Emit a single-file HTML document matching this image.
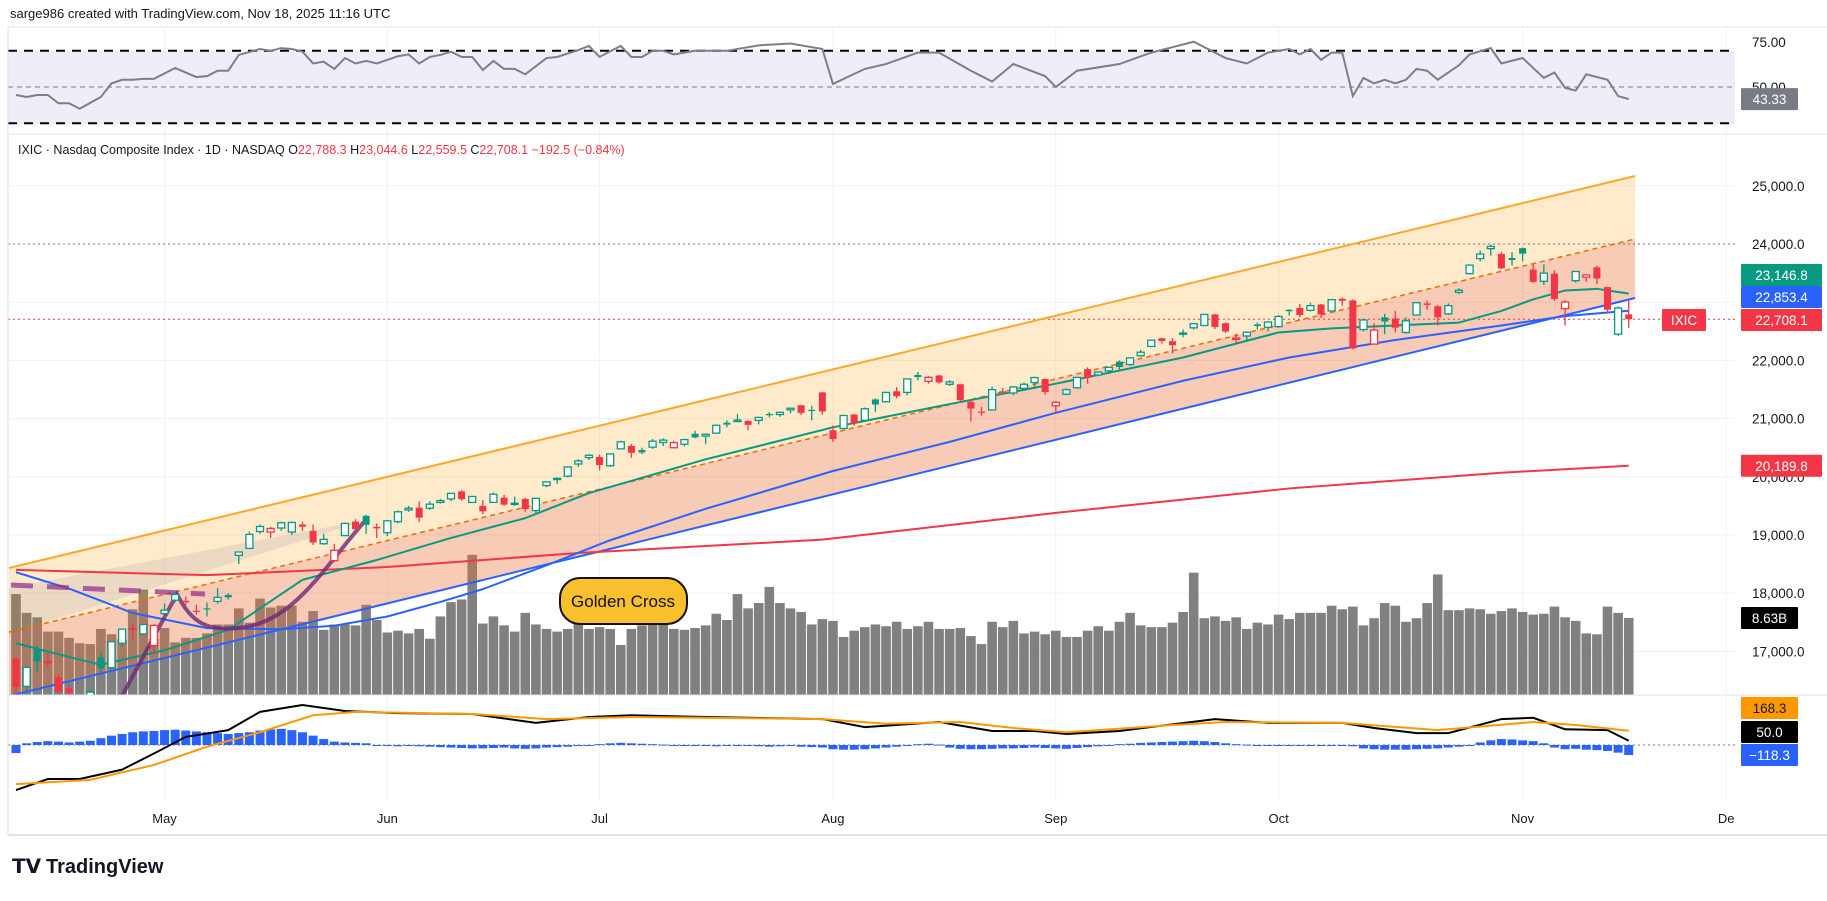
<!DOCTYPE html>
<html><head><meta charset="utf-8"><title>IXIC chart</title>
<style>
html,body{margin:0;padding:0;background:#fff;}
body{width:1827px;height:896px;overflow:hidden;font-family:"Liberation Sans",sans-serif;}
svg text{font-family:"Liberation Sans",sans-serif;}
</style></head>
<body>
<svg id="chart" width="1827" height="896" viewBox="0 0 1827 896" xmlns="http://www.w3.org/2000/svg">
<defs>
<clipPath id="pp"><rect x="8" y="134" width="1727" height="561"/></clipPath>
<clipPath id="rp"><rect x="8" y="28" width="1727" height="106"/></clipPath>
<clipPath id="mp"><rect x="8" y="695" width="1727" height="105"/></clipPath>
</defs>
<text x="10" y="18" font-size="13" fill="#131722">sarge986 created with TradingView.com, Nov 18, 2025 11:16 UTC</text>
<g id="grid"></g>
<rect x="8" y="51" width="1727" height="73" fill="#f0edf8"/>
<g id="rsi" clip-path="url(#rp)"></g>
<g id="price" clip-path="url(#pp)"></g>
<g id="macd" clip-path="url(#mp)"></g>
<line x1="8" y1="27" x2="1827" y2="27" stroke="#e0e3eb"/>
<line x1="8" y1="134" x2="1827" y2="134" stroke="#e0e3eb"/>
<line x1="8" y1="695" x2="1827" y2="695" stroke="#e0e3eb"/>
<line x1="8" y1="835" x2="1827" y2="835" stroke="#e0e3eb" stroke-width="2"/>
<line x1="8" y1="27" x2="8" y2="835" stroke="#e0e3eb"/>
<text x="18" y="154" font-size="12.5" fill="#131722">IXIC · Nasdaq Composite Index · 1D · NASDAQ  O<tspan fill="#f23645">22,788.3</tspan>  H<tspan fill="#f23645">23,044.6</tspan>  L<tspan fill="#f23645">22,559.5</tspan>  C<tspan fill="#f23645">22,708.1</tspan>  <tspan fill="#f23645">−192.5 (−0.84%)</tspan></text>
<g id="axes"></g>
<g>
<rect x="560" y="578" width="127" height="46" rx="20" ry="20" fill="#f9c02d" stroke="#111" stroke-width="2"/>
<text x="623" y="607" font-size="17" text-anchor="middle" fill="#111">Golden Cross</text>
</g>
<g>
<text x="12" y="873" font-size="20" font-weight="bold" fill="#131722">𝗧𝗩</text>
<text x="46" y="873" font-size="20" font-weight="bold" fill="#131722">TradingView</text>
</g>
</svg>
<script>
const NS="http://www.w3.org/2000/svg";
// ---- data ----
const opens=[16880,16400,17050,16820,16560,16370,16120,16060,16900,16720,17140,17400,17300,17100,
17650,17880,17870,17700,17740,17860,17970,18650,18770,19060,19050,19120,19050,19180,19070,18850,18560,18990,19230,19330,19140,
19040,19230,19430,19470,19460,19560,19620,19750,19560,19500,19560,19640,19530,19620,19420,19850,19960,20010,20220,20330,
20340,20190,20480,20530,20460,20510,20590,20500,20560,20740,20700,20750,20930,20950,20960,20970,21080,21070,21150,21230,21150,21450,
20800,20830,21070,20970,21330,21290,21470,21450,21750,21640,21740,21590,21590,21290,21120,21150,21470,21440,21520,21620,21680,
21220,21420,21530,21850,21750,21820,21980,21930,22080,22240,22380,22330,22460,22560,22600,22790,22640,22360,22420,22620,22570,
22580,22870,22900,22860,22960,22850,23060,23030,22530,22280,22740,22720,22480,22780,22980,22930,22800,23170,23490,23750,23920,23830,23760,
23930,23560,23360,23490,22890,23370,23430,23600,23260,22450,22790];
const highs=[16910,16760,17090,16970,16600,16440,16140,16350,17000,17170,17390,17480,17480,17470,
17820,18020,17940,17800,17840,18090,18000,18710,19060,19180,19140,19230,19230,19230,19180,19020,18850,19210,19270,19350,19200,
19250,19420,19500,19580,19580,19620,19720,19770,19670,19600,19730,19690,19660,19640,19640,19920,19990,20180,20300,20390,
20380,20400,20620,20560,20500,20650,20660,20620,20650,20790,20740,20890,20970,21080,20970,21030,21110,21110,21190,21240,21220,21460,
20880,21060,21080,21190,21350,21460,21540,21690,21800,21730,21750,21660,21600,21300,21200,21550,21530,21560,21620,21720,21690,
21300,21520,21710,21880,21810,21880,22000,22050,22180,22350,22390,22380,22530,22640,22790,22800,22650,22460,22500,22650,22670,
22780,22880,22970,22990,22970,23050,23080,23050,22720,22640,22800,22850,22740,23000,23030,22950,22980,23240,23650,23890,23990,23870,23860,
23940,23650,23650,23550,23030,23540,23480,23630,23270,22930,23040];
const lows=[16150,16250,16650,16740,16160,16250,15760,16000,16650,16700,17080,17210,17280,16950,
17640,17840,17800,17630,17600,17820,17890,18500,18760,19020,18950,19070,19000,19070,18830,18830,18530,18980,19090,19020,18950,
18980,19200,19400,19220,19430,19540,19580,19590,19550,19360,19550,19500,19500,19400,19380,19820,19880,19990,20170,20290,
20110,20170,20470,20330,20390,20480,20530,20490,20520,20660,20560,20740,20850,20950,20800,20900,21020,21030,21090,21060,20970,21070,
20600,20820,20880,20960,21110,21280,21350,21400,21660,21600,21600,21560,21300,20950,21050,21140,21440,21400,21500,21520,21410,
21100,21400,21510,21600,21730,21780,21840,21900,22060,22230,22290,22120,22400,22530,22590,22540,22470,22280,22340,22530,22500,
22560,22770,22740,22840,22730,22840,22940,22190,22500,22280,22450,22480,22460,22770,22870,22600,22780,23140,23480,23700,23800,23570,23630,
23700,23330,23300,23020,22600,23340,23350,23310,22810,22420,22560];
const closes=[16387,16724,16831,16823,16307,16286,15870,16300,16708,17166,17382,17366,17461,17446,
17710,17977,17844,17690,17738,17928,17929,18708,19010,19146,19112,19211,19215,19143,18872,18925,18737,19199,19101,19175,19114,
19243,19399,19460,19298,19530,19591,19715,19615,19662,19407,19701,19521,19546,19447,19631,19913,19973,20168,20273,20370,
20202,20393,20601,20412,20418,20611,20630,20586,20640,20677,20730,20885,20896,20974,20892,21020,21057,21108,21178,21098,21130,21122,
20650,21053,20916,21169,21242,21450,21385,21682,21713,21710,21623,21630,21315,21172,21100,21497,21449,21544,21590,21705,21456,
21280,21498,21707,21700,21799,21879,21886,22043,22141,22348,22333,22261,22470,22631,22789,22573,22497,22384,22484,22591,22660,
22755,22845,22780,22941,22788,23044,23024,22204,22695,22521,22670,22562,22680,22991,22953,22740,22941,23205,23637,23827,23958,23581,23725,
23834,23348,23500,23054,23004,23527,23468,23406,22870,22900,22708];
const volumes=[11.3,9.2,8.7,7.1,7.1,6.4,5.8,5.7,7.4,6.8,6.2,9.6,11.8,6.3,7.5,5.9,6.4,6.4,6.9,7.9,7.9,9.7,8.1,10.8,9.8,10.0,10.0,8.2,9.4,7.3,
7.9,7.9,7.8,10.1,8.4,7.0,7.2,6.9,7.4,6.3,8.8,10.4,10.7,15.7,8.0,8.8,7.8,7.1,9.2,7.9,7.4,7.1,7.4,10.8,7.4,7.6,7.4,5.6,7.4,7.8,
9.2,9.0,7.4,7.3,7.5,7.8,9.1,8.4,11.3,9.7,10.3,12.1,10.3,9.7,9.3,7.9,8.5,8.3,
6.5,7.2,7.6,7.9,7.7,8.2,7.4,7.7,8.2,7.4,7.4,7.5,6.6,5.7,8.2,7.6,8.3,6.9,7.1,6.8,7.2,6.5,6.5,7.2,7.7,7.2,8.2,9.2,7.8,7.6,
7.6,8.1,9.3,13.7,8.6,8.8,8.3,8.7,7.4,8.1,7.9,9.0,8.5,9.2,9.2,9.2,10.0,9.6,9.9,7.8,8.6,10.3,10.0,8.2,8.6,10.3,13.5,9.5,9.5,9.7,
9.6,9.1,9.4,9.7,9.3,9.0,9.1,9.9,8.7,8.3,6.9,6.8,9.9,9.2,8.63];
// moving averages (sparse bar-index / value pairs)
const emaIdx=[0,4,8,14,20,27,34,41,48,54,65,77,88,98,110,119,124,130,136,140,143,146,149,152];
const emaVal=[17140,16950,16770,17020,17370,18230,18570,18950,19290,19720,20300,20850,21250,21600,22050,22480,22550,22600,22650,22850,23050,23200,23230,23147];
const smaIdx=[0,5,11,18,25,30,35,40,44,50,56,60,65,77,88,98,110,120,130,140,146,152];
const smaVal=[18360,18080,17660,17400,17380,17440,17600,17850,18070,18480,18910,19150,19450,20100,20600,21100,21650,22050,22350,22600,22760,22853];
const ma200Idx=[0,18,35,53,76,98,120,140,152];
const ma200Val=[18400,18310,18450,18690,18920,19380,19800,20070,20190];
// RSI
const rsiIdx=[0,1,2,3,4,5,6,8,9,10,11,12,13,15,17,18,19,20,21,23,24,25,26,27,28,29,30,31,32,33,34,36,37,38,39,40,41,42,43,44,45,46,47,48,50,51,53,54,55,57,58,59,60,61,62,64,
67,70,73,76,77,80,82,85,87,90,92,94,97,98,100,104,107,109,111,114,116,118,120,121,122,123,124,125,126,127,128,129,130,131,132,133,134,136,137,139,140,142,144,145,146,147,148,150,151,152];
const rsiVal=[45.6,44.5,45.6,45.6,41,41,38,44.5,52,54,54,54.5,54.5,60.5,55.5,56,59,59,67.7,71,70,71.5,71,69.5,63,64,60,66,63,64.4,63,67,68,63,66.6,67.7,69.5,66.6,66.6,59.4,64.4,60,60,57,66,66.6,70.4,72.7,66.6,72.7,66.6,66.6,70,70,68,70,
70,73,74,71,51.7,60,62.7,69,69,59,53,62.7,56,50,59,62.7,69,72,75,66,63,69,71,68,71,65,69,69,45,55,52,54,52,54,60,59,54,62,68,71.5,63,66,55,58,49.5,48,57,54,45,43.3];
// MACD
const macdIdx=[0,3,6,10,13,16,20,23,27,31,36,43,49,54,58,65,76,80,87,92,96,99,104,113,118,125,128,132,135,140,143,146,150,152];
const macdVal=[-530,-400,-400,-290,-100,95,175,390,470,400,375,365,260,330,350,330,305,210,270,165,165,130,165,305,260,260,200,140,140,305,320,185,175,50];
const sigIdx=[0,7,13,18,23,28,32,43,50,58,76,82,89,94,99,109,114,125,134,143,147,152];
const sigVal=[-460,-410,-235,-20,150,350,390,365,305,330,305,250,270,200,150,235,270,260,175,270,235,168];
const hist=[-95,20,35,45,40,30,40,50,80,110,130,150,160,165,175,180,170,160,150,140,130,140,150,170,185,190,175,150,110,70,40,30,25,20,
-5,-10,-15,-10,-15,-20,-25,-30,-35,-40,-40,-35,-30,-40,-45,-40,-30,-25,-20,-10,-5,10,20,25,20,15,10,
5,0,-5,-10,-10,-15,-10,-5,-10,-15,-20,-15,-10,-20,-25,-30,-50,-55,-55,-50,-40,-30,-20,-10,10,15,5,
-30,-45,-50,-50,-45,-40,-40,-35,-30,-35,-40,-45,-35,-25,-15,-5,10,15,25,30,35,40,45,50,45,35,20,10,5,
0,0,-5,0,0,-5,-10,0,-5,-15,-40,-50,-55,-55,-55,-50,-45,-40,-30,-20,-10,30,55,70,65,55,45,20,-30,-50,-45,-55,-60,-70,-90,-118];
const priceTicks=[25000,24000,22000,21000,20000,19000,18000,17000];
const monthLabels=["May","Jun","Jul","Aug","Sep","Oct","Nov","De"];
const monthIdx=[14,35,55,77,98,119,142,161];
// ---- scales ----
const X=i=>16+i*10.61;
const Y=p=>244+(24000-p)*0.0582;
const YR=v=>87-(v-50)*1.81;
const YM=v=>745-v*0.085;
const YV=v=>695-v*8.93;
function mk(tag,attrs,parent){const e=document.createElementNS(NS,tag);for(const k in attrs)e.setAttribute(k,attrs[k]);parent.appendChild(e);return e;}
const G=id=>document.getElementById(id);
const grid=G('grid'),price=G('price'),rsi=G('rsi'),macd=G('macd'),axes=G('axes');
// grid
monthIdx.forEach((mi,k)=>{
  const x=X(mi)-(k==7?-2:0);
  const l=mk('line',{x1:x,y1:28,x2:x,y2:800,stroke:'#f0f1f3'},grid);
  
  
  const t=mk('text',{x:x,y:823,'font-size':13,'text-anchor':'middle',fill:'#131722'},axes);
  t.textContent=monthLabels[k];
  
  
});
priceTicks.concat([23000]).forEach(p=>{
  const l=mk('line',{x1:8,y1:Y(p),x2:1735,y2:Y(p),stroke:'#f0f1f3'},grid);
  
  
});
priceTicks.forEach(p=>{
  const t=mk('text',{x:1752,y:Y(p)+5,'font-size':13.5,fill:'#131722'},axes);
  t.textContent=p.toLocaleString('en-US')+'.0';
  
  
});
[[75,'75.00'],[50,'50.00']].forEach(r=>{
  const t=mk('text',{x:1752,y:YR(r[0])+5,'font-size':13.5,fill:'#131722'},axes);
  t.textContent=r[1];
  
  
});
// RSI pane
[[70,'#000',2,'9,7'],[30,'#000',2,'9,7'],[50,'#787b86',1,'5,4']].forEach(r=>{
  const l=mk('line',{x1:8,y1:YR(r[0]),x2:1735,y2:YR(r[0]),stroke:r[1],'stroke-width':r[2],'stroke-dasharray':r[3]},rsi);
  
  
});
const rsiLine=mk('polyline',{points:rsiIdx.map((i,k)=>X(i)+','+YR(rsiVal[k])).join(' '),fill:'none',stroke:'#7e7e86','stroke-width':2},rsi);


// volume
volumes.forEach((v,i)=>{
  const r=mk('rect',{x:X(i)-4.8,y:YV(v),width:9.6,height:695-YV(v),fill:'#808080'},price);
  
  
});
// channel fills
const iEnd=152.6;
const up0=[9,568],up1=[X(iEnd),176],md0=[9,632],md1=[X(iEnd),239],lo0=[9,696],lo1=[X(iEnd),298];
const f1=mk('polygon',{points:[up0,up1,md1,md0].map(p=>p.join(',')).join(' '),fill:'rgba(255,152,0,0.2)'},price);


const f2=mk('polygon',{points:[md0,md1,lo1,lo0].map(p=>p.join(',')).join(' '),fill:'rgba(232,110,50,0.36)'},price);


const tri=mk('polygon',{points:'9,588 370,519 9,634',fill:'rgba(110,110,140,0.13)'},price);


// horizontal dotted lines
const h1=mk('line',{x1:8,y1:Y(24000),x2:1735,y2:Y(24000),stroke:'#787b86','stroke-dasharray':'2,3'},price);


const h2=mk('line',{x1:8,y1:Y(22708.1),x2:1735,y2:Y(22708.1),stroke:'#f23645','stroke-dasharray':'2,3'},price);


// channel lines
const cu=mk('line',{x1:up0[0],y1:up0[1],x2:up1[0],y2:up1[1],stroke:'#ffa726','stroke-width':2},price);


const cm=mk('line',{x1:md0[0],y1:md0[1],x2:md1[0],y2:md1[1],stroke:'#ef6c00','stroke-width':1.5,'stroke-dasharray':'5,4'},price);


const cl=mk('line',{x1:lo0[0],y1:lo0[1],x2:lo1[0],y2:lo1[1],stroke:'#2962ff','stroke-width':2},price);


// MAs
function maLine(idx,val,color,name){
  const p=mk('polyline',{points:idx.map((i,k)=>X(i)+','+Y(val[k])).join(' '),fill:'none',stroke:color,'stroke-width':2,'stroke-linejoin':'round'},price);
  
  
}
maLine(ma200Idx,ma200Val,'#f23645','ma-200-line');
maLine(smaIdx,smaVal,'#2962ff','ma-50-line');
maLine(emaIdx,emaVal,'#089981','ema-20-line');
// purple drawings
const pd=mk('line',{x1:11,y1:585,x2:205,y2:594,stroke:'rgba(150,50,140,0.75)','stroke-width':5,'stroke-dasharray':'22,14'},price);


const pc=mk('path',{d:'M122,696 L177,594 C192,625 210,631 238,628 C292,624 322,570 364,522',fill:'none',stroke:'rgba(110,40,120,0.8)','stroke-width':4},price);


// candles
closes.forEach((c,i)=>{
  const o=opens[i],h=highs[i],l=lows[i];
  const prev=i>0?closes[i-1]:99999;
  const col=c>=prev?'#089981':'#f23645';
  const g=mk('g',{},price);
  
  
  const x=X(i),yt=Y(Math.max(o,c)),yb=Y(Math.min(o,c));
  mk('line',{x1:x,y1:Y(h),x2:x,y2:yt,stroke:col,'stroke-width':1.3},g);
  mk('line',{x1:x,y1:yb,x2:x,y2:Y(l),stroke:col,'stroke-width':1.3},g);
  const hollow=c>o;
  mk('rect',{x:x-3.5,y:yt,width:7,height:Math.max(1.2,yb-yt),fill:hollow?'#fff':col,stroke:col,'stroke-width':hollow?1.3:0},g);
});
// MACD
const z=mk('line',{x1:8,y1:YM(0),x2:1735,y2:YM(0),stroke:'#787b86','stroke-dasharray':'2,3'},macd);


hist.forEach((v,i)=>{
  const r=mk('rect',{x:X(i)-4.5,y:Math.min(YM(v),YM(0)),width:9,height:Math.max(1,Math.abs(YM(v)-YM(0))),fill:'#2962ff'},macd);
  
  
});
const ml=mk('polyline',{points:macdIdx.map((i,k)=>X(i)+','+YM(macdVal[k])).join(' '),fill:'none',stroke:'#000','stroke-width':2},macd);


const sl=mk('polyline',{points:sigIdx.map((i,k)=>X(i)+','+YM(sigVal[k])).join(' '),fill:'none',stroke:'#ff9800','stroke-width':2},macd);


// tags
function tag(x,y,w,txt,bg,fg,name){
  const g=mk('g',{},axes);
  
  
  mk('rect',{x:x,y:y-11,width:w,height:22,fill:bg,rx:1},g);
  const t=mk('text',{x:x+w/2,y:y+5,'font-size':13.5,'text-anchor':'middle',fill:fg},g);
  t.textContent=txt;
}
tag(1741,YR(43.33),57,'43.33','#787b86','#fff','rsi-value-tag');
tag(1741,275,81,'23,146.8','#089981','#fff','ema-value-tag');
tag(1741,297,81,'22,853.4','#2962ff','#fff','ma50-value-tag');
tag(1662,320,44,'IXIC','#f23645','#fff','symbol-tag');
tag(1741,320,81,'22,708.1','#f23645','#fff','last-price-tag');
tag(1741,Y(20189.8),81,'20,189.8','#f23645','#fff','ma200-value-tag');
tag(1741,618,57,'8.63B','#000','#fff','volume-value-tag');
tag(1741,708,57,'168.3','#ff9800','#131722','signal-value-tag');
tag(1741,732,57,'50.0','#000','#fff','macd-value-tag');
tag(1741,755,57,'−118.3','#2962ff','#fff','histogram-value-tag');
</script>
</body></html>
